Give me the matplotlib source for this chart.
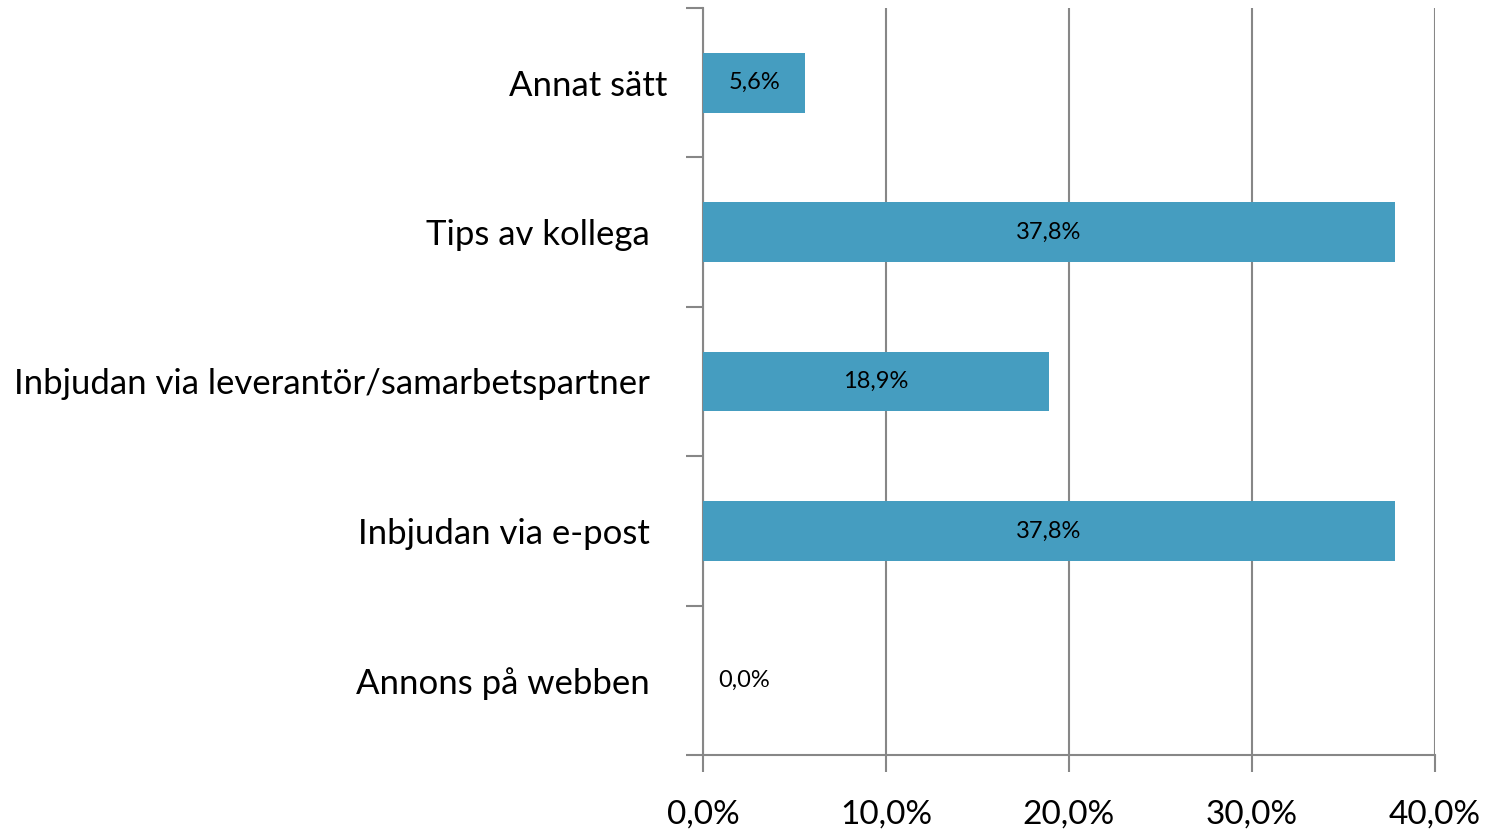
import matplotlib
matplotlib.use("Agg")
import matplotlib.pyplot as plt
import matplotlib.transforms as mtransforms
import numpy as np

# data, bottom to top
categories = ["Annons på webben", "Inbjudan via e-post",
              "Inbjudan via leverantör/samarbetspartner", "Tips av kollega", "Annat sätt"]
values = [0.0, 37.8, 18.9, 37.8, 5.6]
xticks = [0, 10, 20, 30, 40]

plt.rcParams['font.family'] = ['Lato', 'DejaVu Sans']
bar_color = '#459DC0'
grid_color = '#878787'

fig = plt.figure(figsize=(14.93, 8.35), dpi=100)
ax = fig.add_axes([703 / 1493, 1 - 755 / 835, (1435 - 703) / 1493, (755 - 8) / 835])

y = np.arange(len(categories))
ax.barh(y, values, height=0.4, color=bar_color, zorder=3)

for yi, v in zip(y, values):
    lbl = f"{v:.1f}%".replace(".", ",")
    if v == 0:
        ax.annotate(lbl, (0, yi), xytext=(11, 0), textcoords="offset points",
                    ha="left", va="center", fontsize=17, zorder=4)
    else:
        ax.text(v / 2, yi, lbl, ha="center", va="center", fontsize=17, zorder=4)

ax.set_xlim(0, 40)
ax.set_ylim(-0.5, len(categories) - 0.5)
ax.set_xticks(xticks)
ax.set_xticklabels([f"{t:.1f}%".replace(".", ",") for t in xticks], fontsize=24)
ax.tick_params(axis="x", length=12, width=1.5, color=grid_color, pad=20)

# category boundaries as major ticks, names on minor ticks
ax.set_yticks(np.arange(len(categories) + 1) - 0.5)
ax.set_yticklabels([])
ax.set_yticks(y, minor=True)
ax.set_yticklabels(categories, minor=True, fontsize=25)
ax.tick_params(axis="y", which="major", length=12, width=1.5, color=grid_color)
ax.tick_params(axis="y", which="minor", length=0, pad=38)

# the top label sits a bit further right in the original
top_lbl = ax.get_yticklabels(minor=True)[-1]
top_lbl.set_transform(top_lbl.get_transform() +
                      mtransforms.ScaledTranslation(17 / 100, 0, fig.dpi_scale_trans))

ax.grid(axis="x", color=grid_color, linewidth=1.5, zorder=0)
for s in ["top", "right"]:
    ax.spines[s].set_visible(False)
for s in ["left", "bottom"]:
    ax.spines[s].set_color(grid_color)
    ax.spines[s].set_linewidth(1.5)

fig.savefig("out.png", dpi=100)
